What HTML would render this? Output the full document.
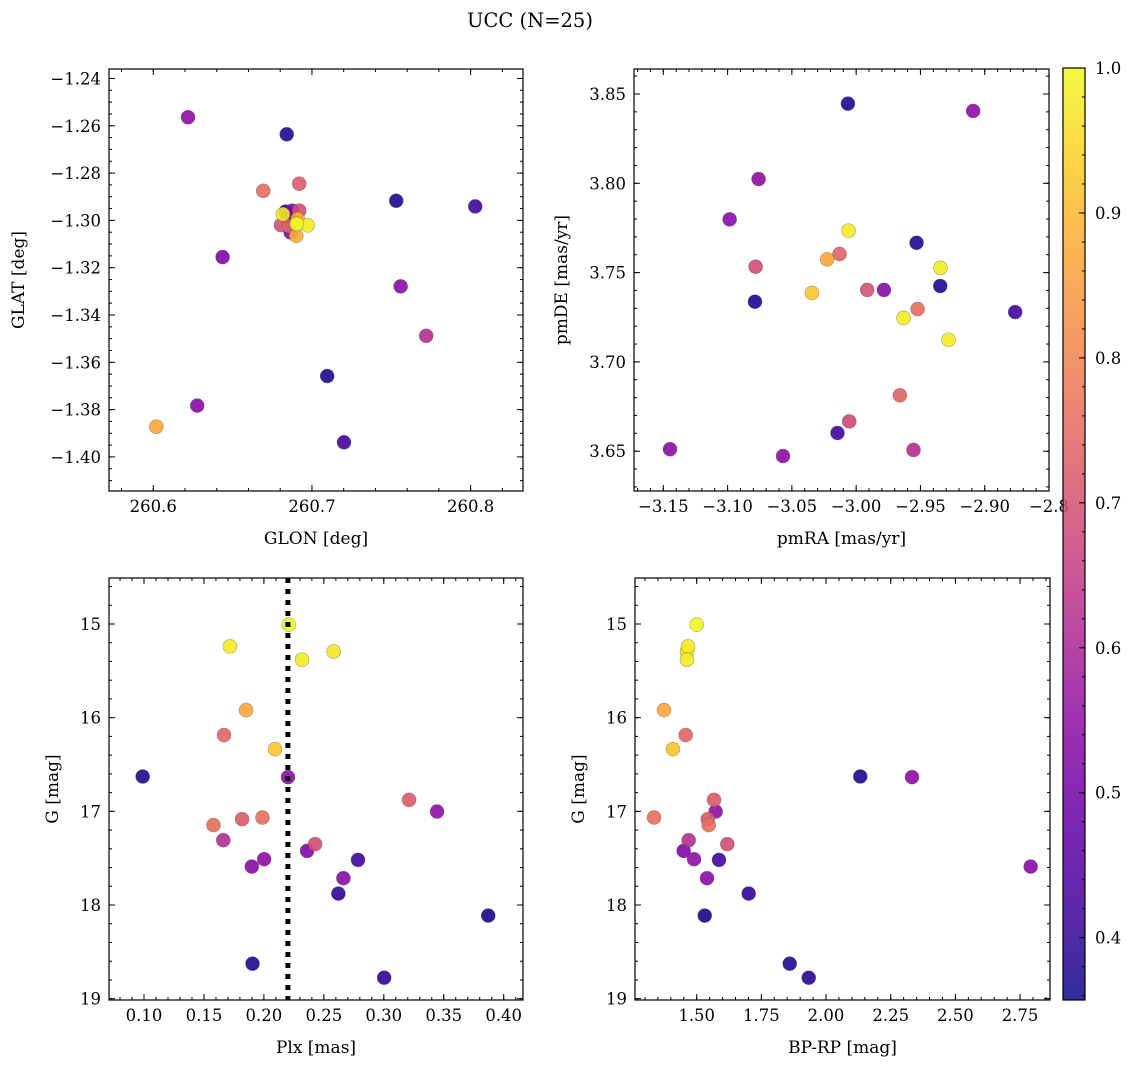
<!DOCTYPE html>
<html><head><meta charset="utf-8"><title>UCC (N=25)</title>
<style>
html,body{margin:0;padding:0;background:#fff;}
svg{display:block;font-family:"DejaVu Serif","Liberation Serif",serif;}
</style></head>
<body>
<svg id="fig" width="1136" height="1068" viewBox="0 0 1136 1068" xmlns="http://www.w3.org/2000/svg">
<defs>
<linearGradient id="plasma" x1="0" y1="1" x2="0" y2="0"></linearGradient>
</defs>
<text x="530" y="27" text-anchor="middle" font-size="19.5">UCC (N=25)</text>
</svg>
<script>
// ---- data: panel 1 (GLON/GLAT) ----
const glon = [260.6219,260.6841,260.6693,260.6920,260.7531,260.8029,260.6437,260.7559,260.7720,260.7096,260.6277,260.6019,260.7202,260.6834,260.6876,260.6920,260.6817,260.6805,260.6855,260.6866,260.6904,260.6910,260.6973,260.6901,260.6844];
const glat = [-1.2564,-1.2636,-1.2875,-1.2845,-1.2917,-1.2941,-1.3155,-1.3279,-1.3488,-1.3658,-1.3783,-1.3872,-1.3938,-1.2963,-1.2959,-1.2959,-1.2974,-1.3020,-1.3023,-1.3051,-1.3015,-1.2994,-1.3021,-1.3065,-1.2987];
const probPos = [0.55,0.38,0.76,0.72,0.38,0.42,0.52,0.54,0.62,0.38,0.54,0.87,0.42,0.38,0.52,0.69,0.98,0.70,0.74,0.52,1.0,0.88,0.98,0.88,0.40];
// ---- data: panel 2 (pmRA/pmDE) ----
const pmra = [-3.0064,-2.909,-3.0759,-3.0984,-3.0059,-2.953,-3.0129,-3.0225,-3.0782,-2.9344,-2.9346,-3.0344,-2.9914,-2.9784,-3.0787,-2.8763,-2.9522,-2.9631,-2.9281,-2.966,-3.0054,-3.0145,-3.1448,-3.0569,-2.9554];
const pmde = [3.8446,3.8405,3.8024,3.7798,3.7735,3.7667,3.7604,3.7574,3.7533,3.7527,3.7425,3.7386,3.7403,3.7403,3.7337,3.7279,3.7296,3.7246,3.7124,3.6813,3.6667,3.6602,3.6511,3.6473,3.6507];
const probPM = [0.38,0.55,0.55,0.54,0.98,0.38,0.74,0.87,0.69,0.98,0.38,0.92,0.70,0.54,0.38,0.42,0.76,0.98,0.98,0.74,0.68,0.42,0.54,0.55,0.62];
// ---- data: panels 3 & 4 (Plx, BP-RP vs G) ----
const plx = [0.0989,0.1717,0.2207,0.2318,0.2582,0.1851,0.1667,0.2093,0.2201,0.3211,0.3444,0.1579,0.1818,0.1988,0.1661,0.2427,0.2360,0.2785,0.2002,0.1899,0.2663,0.2621,0.3871,0.1905,0.3003];
const gmag = [16.628,15.239,15.007,15.381,15.293,15.919,16.186,16.336,16.635,16.877,17.002,17.147,17.083,17.066,17.308,17.350,17.422,17.518,17.511,17.590,17.714,17.878,18.113,18.626,18.776];
const bprp = [2.1324,1.4664,1.500,1.4625,1.4625,1.3736,1.4575,1.4084,2.3323,1.5669,1.5734,1.5464,1.5425,1.335,1.469,1.6184,1.4497,1.5862,1.4896,2.791,1.5398,1.701,1.531,1.8595,1.933];
const probPhot = [0.38,0.98,1.0,0.98,0.97,0.87,0.74,0.92,0.55,0.72,0.55,0.76,0.72,0.76,0.62,0.69,0.52,0.42,0.55,0.54,0.54,0.40,0.37,0.38,0.39];
const plxLine = 0.22;
// ---- tick labels ----
const ticksGlon = [260.6,260.7,260.8];
const ticksGlat = [-1.24,-1.26,-1.28,-1.30,-1.32,-1.34,-1.36,-1.38,-1.40];
const ticksPmra = [-3.15,-3.10,-3.05,-3.00,-2.95,-2.90,-2.85];
const labelsPmra = ["−3.15","−3.10","−3.05","−3.00","−2.95","−2.90","−2.8"];
const ticksPmde = [3.65,3.70,3.75,3.80,3.85];
const ticksPlx = [0.10,0.15,0.20,0.25,0.30,0.35,0.40];
const ticksG = [15,16,17,18,19];
const ticksBprp = [1.50,1.75,2.00,2.25,2.50,2.75];
const ticksCbar = [0.4,0.5,0.6,0.7,0.8,0.9,1.0];
const cMin = 0.357, cMax = 1.0;

const FS = 16.5, FL = 17;
const NS = "http://www.w3.org/2000/svg";
const svg = document.getElementById('fig');
function mk(tag, attrs, parent){const e=document.createElementNS(NS,tag);for(const k in attrs)e.setAttribute(k,attrs[k]);(parent||svg).appendChild(e);return e;}

const stops=[[0,'#0d0887'],[0.1,'#41049d'],[0.2,'#6a00a8'],[0.3,'#8f0da4'],[0.4,'#b12a90'],[0.5,'#cc4778'],[0.6,'#e16462'],[0.7,'#f2844b'],[0.8,'#fca636'],[0.9,'#fcce25'],[1,'#f0f921']];
function hex(h){return [parseInt(h.substr(1,2),16),parseInt(h.substr(3,2),16),parseInt(h.substr(5,2),16)];}
function plasma(t){t=Math.max(0,Math.min(1,t));for(let i=0;i<stops.length-1;i++){if(t<=stops[i+1][0]){const f=(t-stops[i][0])/(stops[i+1][0]-stops[i][0]);const a=hex(stops[i][1]),b=hex(stops[i+1][1]);return 'rgb('+a.map((v,j)=>Math.round(v+(b[j]-v)*f)).join(',')+')';}}return stops[stops.length-1][1];}
function cnorm(v){return (v-cMin)/(cMax-cMin);}
const grad=document.getElementById('plasma');
stops.forEach(s=>{mk('stop',{offset:s[0],'stop-color':s[1]},grad);});

function fmt(v,d){return (v<0?'−':'')+Math.abs(v).toFixed(d);}

function panel(o){
  const g=mk('g',{});
  
  
  const sx=v=>o.x0+(v-o.xmin)/(o.xmax-o.xmin)*(o.x1-o.x0);
  const sy=o.yinv? (v=>o.y0+(v-o.ymin)/(o.ymax-o.ymin)*(o.y1-o.y0)) : (v=>o.y1-(v-o.ymin)/(o.ymax-o.ymin)*(o.y1-o.y0));
  const tk=mk('g',{stroke:'#000','stroke-width':1},g);
  
  
  const eps=1e-9;
  for(let v=Math.ceil(o.xmin/o.xminor-eps)*o.xminor; v<=o.xmax+eps; v+=o.xminor){const x=sx(v);mk('line',{x1:x,x2:x,y1:o.y1,y2:o.y1-3},tk);mk('line',{x1:x,x2:x,y1:o.y0,y2:o.y0+3},tk);}
  for(let v=Math.ceil(o.ymin/o.yminor-eps)*o.yminor; v<=o.ymax+eps; v+=o.yminor){const y=sy(v);mk('line',{x1:o.x0,x2:o.x0+3,y1:y,y2:y},tk);mk('line',{x1:o.x1,x2:o.x1-3,y1:y,y2:y},tk);}
  o.xt.forEach((v,i)=>{const x=sx(v);if(x<o.x0-0.5||x>o.x1+0.5)return;mk('line',{x1:x,x2:x,y1:o.y1,y2:o.y1-6},tk);mk('line',{x1:x,x2:x,y1:o.y0,y2:o.y0+6},tk);
    const t=mk('text',{x:x,y:o.y1+21,'text-anchor':'middle','font-size':FS},g);t.textContent=o.xl?o.xl[i]:fmt(v,o.xd);
    
    });
  o.yt.forEach(v=>{const y=sy(v);mk('line',{x1:o.x0,x2:o.x0+6,y1:y,y2:y},tk);mk('line',{x1:o.x1,x2:o.x1-6,y1:y,y2:y},tk);
    const t=mk('text',{x:o.x0-8,y:y+6,'text-anchor':'end','font-size':FS},g);t.textContent=fmt(v,o.yd);
    
    });
  const idx=o.xs.map((_,i)=>i).sort((a,b)=>o.cs[a]-o.cs[b]);
  idx.forEach(i=>{const c=mk('circle',{cx:sx(o.xs[i]),cy:sy(o.ys[i]),r:7,fill:plasma(cnorm(o.cs[i])),'fill-opacity':0.9,stroke:'rgba(90,90,90,0.55)','stroke-width':0.6},g);
    
    });
  if(o.vline!==undefined){const x=sx(o.vline);const l=mk('line',{x1:x,x2:x,y1:o.y0,y2:o.y1,stroke:'#000','stroke-width':5,'stroke-dasharray':'5,6'},g);
    
    }
  const fr=mk('rect',{x:o.x0,y:o.y0,width:o.x1-o.x0,height:o.y1-o.y0,fill:'none',stroke:'#000','stroke-width':1.2},g);
  
  
  const xlab=mk('text',{x:(o.x0+o.x1)/2,y:o.y1+53,'text-anchor':'middle','font-size':FL},g);xlab.textContent=o.xlabel;
  
  
  const yc=(o.y0+o.y1)/2;
  const ylab=mk('text',{x:o.ylx,y:yc,'text-anchor':'middle','font-size':FL,transform:'rotate(-90 '+o.ylx+' '+yc+')'},g);ylab.textContent=o.ylabel;
  
  
}

panel({name:'glon-glat-panel',x0:109,x1:523,y0:69,y1:491,xmin:260.5721,xmax:260.833,ymin:-1.4144,ymax:-1.2360,xminor:0.02,yminor:0.005,xt:ticksGlon,xd:1,yt:ticksGlat,yd:2,xs:glon,ys:glat,cs:probPos,xlabel:'GLON [deg]',ylabel:'GLAT [deg]',ylx:24});
panel({name:'pm-panel',x0:634,x1:1049,y0:69,y1:491,xmin:-3.1728,xmax:-2.85,ymin:3.85-(491-94)/1786,ymax:3.85+(94-69)/1786,xminor:0.01,yminor:0.01,xt:ticksPmra,xl:labelsPmra,xd:2,yt:ticksPmde,yd:2,xs:pmra,ys:pmde,cs:probPM,xlabel:'pmRA [mas/yr]',ylabel:'pmDE [mas/yr]',ylx:567});
panel({name:'plx-g-panel',x0:109,x1:523,y0:578,y1:1000,yinv:true,xmin:0.0708,xmax:0.4161,ymin:14.509,ymax:19.014,xminor:0.01,yminor:0.2,xt:ticksPlx,xd:2,yt:ticksG,yd:0,xs:plx,ys:gmag,cs:probPhot,vline:plxLine,xlabel:'Plx [mas]',ylabel:'G [mag]',ylx:58});
panel({name:'cmd-panel',x0:635,x1:1050,y0:578,y1:1000,yinv:true,xmin:1.2615,xmax:2.8657,ymin:14.509,ymax:19.014,xminor:0.05,yminor:0.2,xt:ticksBprp,xd:2,yt:ticksG,yd:0,xs:bprp,ys:gmag,cs:probPhot,xlabel:'BP-RP [mag]',ylabel:'G [mag]',ylx:584});

const cb=mk('g',{});


const cy0=68, cy1=1000, cx0=1063, cx1=1085;
const cbr=mk('rect',{x:cx0,y:cy0,width:cx1-cx0,height:cy1-cy0,fill:'url(#plasma)','fill-opacity':0.85,stroke:'#000','stroke-width':1.2},cb);


const csy=v=>cy1-(v-cMin)/(cMax-cMin)*(cy1-cy0);
for(let v=0.36;v<=1.0001;v+=0.02){const y=csy(v);mk('line',{x1:cx1,x2:cx1-3,y1:y,y2:y,stroke:'#000'},cb);}
ticksCbar.forEach(v=>{const y=csy(v);mk('line',{x1:cx1,x2:cx1-6,y1:y,y2:y,stroke:'#000'},cb);
  const t=mk('text',{x:1095,y:y+6,'font-size':FS},cb);t.textContent=v.toFixed(1);
  
  });
</script>
</body></html>
